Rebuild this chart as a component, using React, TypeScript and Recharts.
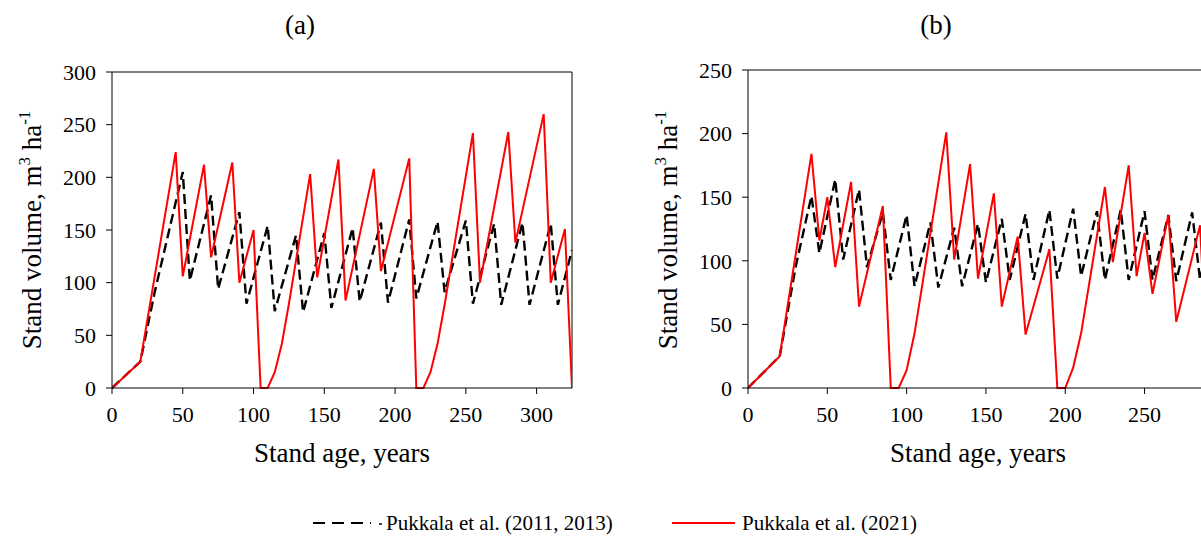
import { LineChart, Line, XAxis, YAxis, ReferenceLine } from "recharts";

// stand age (years) and stand volume (m3/ha)
const ageA2011 = [0, 20, 30, 50, 55, 70, 75, 90, 95, 110, 115, 130, 135, 150, 155, 170, 175, 190, 195, 210, 215, 230, 235, 250, 255, 270, 275, 290, 295, 310, 315, 325];
const volA2011 = [0, 25, 90, 205, 102, 183, 94, 167, 80, 154, 73, 145, 72, 147, 76, 152, 82, 157, 81, 160, 85, 158, 91, 159, 80, 156, 79, 157, 79, 156, 79, 131];

const ageA2021 = [0, 20, 45, 50, 65, 70, 85, 90, 100, 105, 110, 115, 120, 125, 140, 145, 160, 165, 185, 190, 210, 215, 220, 225, 230, 235, 255, 260, 280, 285, 305, 310, 320, 325];
const volA2021 = [0, 25, 224, 106, 212, 124, 214, 100, 150, 0, 0, 15, 42, 80, 203, 105, 217, 83, 208, 111, 218, 0, 0, 15, 42, 79, 242, 100, 243, 138, 260, 100, 151, 0];

const ageB2011 = [0, 20, 30, 40, 45, 55, 60, 70, 75, 85, 90, 100, 105, 115, 120, 130, 135, 145, 150, 160, 165, 175, 180, 190, 195, 205, 210, 220, 225, 235, 240, 250, 255, 265, 270, 280, 285, 290];
const volB2011 = [0, 25, 95, 151, 106, 164, 101, 156, 95, 138, 85, 136, 80, 130, 79, 126, 80, 129, 83, 133, 85, 137, 85, 140, 86, 141, 88, 139, 85, 140, 85, 139, 85, 136, 84, 138, 85, 112];

const ageB2021 = [0, 20, 40, 45, 50, 55, 65, 70, 85, 90, 95, 100, 105, 110, 125, 130, 140, 145, 155, 160, 170, 175, 190, 195, 200, 205, 210, 225, 230, 240, 245, 250, 255, 265, 270, 285, 290];
const volB2021 = [0, 25, 184, 116, 150, 95, 162, 64, 143, 0, 0, 14, 43, 82, 201, 101, 176, 86, 153, 64, 119, 42, 109, 0, 0, 16, 43, 158, 99, 175, 88, 122, 74, 136, 52, 128, 0];

const ticksA = [0, 50, 100, 150, 200, 250, 300];
const ticksB = [0, 50, 100, 150, 200, 250];
const yTicksA = [0, 50, 100, 150, 200, 250, 300];
const yTicksB = [0, 50, 100, 150, 200, 250];

const seriesNames = ["Pukkala et al. (2011, 2013)", "Pukkala et al. (2021)"];

const FONT = '"Liberation Serif", "Times New Roman", serif';

const toPoints = (ages: number[], vols: number[]) =>
  ages.map((age, i) => ({ age, vol: vols[i] }));

function YTitle() {
  return (
    <text
      transform="translate(41,230) rotate(-90)"
      textAnchor="middle"
      style={{ fontFamily: FONT, fontSize: 27 }}
      fill="#000"
    >
      <tspan style={{ fontFamily: FONT }}>Stand volume, m</tspan>
      <tspan dy={-11} style={{ fontFamily: FONT, fontSize: 17 }}>3</tspan>
      <tspan dy={11} style={{ fontFamily: FONT }}> ha</tspan>
      <tspan dy={-11} style={{ fontFamily: FONT, fontSize: 17 }}>-1</tspan>
    </text>
  );
}

function XTitle() {
  return (
    <text x={342} y={462} textAnchor="middle" style={{ fontFamily: FONT, fontSize: 27 }} fill="#000">
      Stand age, years
    </text>
  );
}

type PanelProps = {
  left: number;
  top: number;
  title: string;
  xMax: number;
  xTicks: number[];
  yMax: number;
  yTicks: number[];
  oldData: { age: number; vol: number }[];
  newData: { age: number; vol: number }[];
};

function Panel({ left, top, title, xMax, xTicks, yMax, yTicks, oldData, newData }: PanelProps) {
  const tick = { fontSize: 22, fill: "#000", fontFamily: FONT };
  return (
    <div style={{ position: "absolute", left, top: 0, width: 600, height: 480 }}>
      <div
        style={{
          position: "absolute",
          left: 0,
          width: 600,
          top: 10,
          textAlign: "center",
          fontFamily: FONT,
          fontSize: 27,
          lineHeight: "30px",
        }}
      >
        {title}
      </div>
      <LineChart width={600} height={480} margin={{ top, right: 28, left: 0, bottom: 0 }}>
        <XAxis
          dataKey="age"
          type="number"
          domain={[0, xMax]}
          ticks={xTicks}
          allowDataOverflow
          height={480 - 388}
          stroke="#000"
          tick={tick}
          tickSize={6}
          tickMargin={12}
          label={{ content: () => <XTitle /> }}
        />
        <YAxis
          type="number"
          domain={[0, yMax]}
          ticks={yTicks}
          width={112}
          stroke="#000"
          tick={tick}
          tickSize={6}
          tickMargin={10}
          label={{ content: () => <YTitle /> }}
        />
        <ReferenceLine y={yMax} stroke="#000" />
        <ReferenceLine x={xMax} stroke="#000" />
        <Line
          data={oldData}
          dataKey="vol"
          name={seriesNames[0]}
          type="linear"
          stroke="#000"
          strokeWidth={2.4}
          strokeDasharray="10 5"
          dot={false}
          isAnimationActive={false}
        />
        <Line
          data={newData}
          dataKey="vol"
          name={seriesNames[1]}
          type="linear"
          stroke="#ff0000"
          strokeWidth={2}
          dot={false}
          isAnimationActive={false}
        />
      </LineChart>
    </div>
  );
}

function Legend() {
  const text = { position: "absolute" as const, top: 511, fontFamily: FONT, fontSize: 21, lineHeight: "24px", whiteSpace: "nowrap" as const };
  return (
    <>
      <svg style={{ position: "absolute", left: 313, top: 513 }} width={72} height={20}>
        <line x1={0} y1={10} x2={58} y2={10} stroke="#000" strokeWidth={2.2} strokeDasharray="12 7" />
        <line x1={66} y1={11} x2={69} y2={11} stroke="#000" strokeWidth={1.5} />
      </svg>
      <div style={{ ...text, left: 386 }}>{seriesNames[0]}</div>
      <svg style={{ position: "absolute", left: 672, top: 513 }} width={64} height={20}>
        <line x1={0} y1={10} x2={63} y2={10} stroke="#ff0000" strokeWidth={2} />
      </svg>
      <div style={{ ...text, left: 742 }}>{seriesNames[1]}</div>
    </>
  );
}

export default function App() {
  return (
    <div
      style={{
        position: "absolute",
        left: 0,
        top: 0,
        width: 1201,
        height: 543,
        overflow: "hidden",
        background: "#fff",
      }}
    >
      <Panel
        left={0}
        top={72}
        title="(a)"
        xMax={325}
        xTicks={ticksA}
        yMax={300}
        yTicks={yTicksA}
        oldData={toPoints(ageA2011, volA2011)}
        newData={toPoints(ageA2021, volA2021)}
      />
      <Panel
        left={636}
        top={70}
        title="(b)"
        xMax={290}
        xTicks={ticksB}
        yMax={250}
        yTicks={yTicksB}
        oldData={toPoints(ageB2011, volB2011)}
        newData={toPoints(ageB2021, volB2021)}
      />
      <Legend />
    </div>
  );
}
